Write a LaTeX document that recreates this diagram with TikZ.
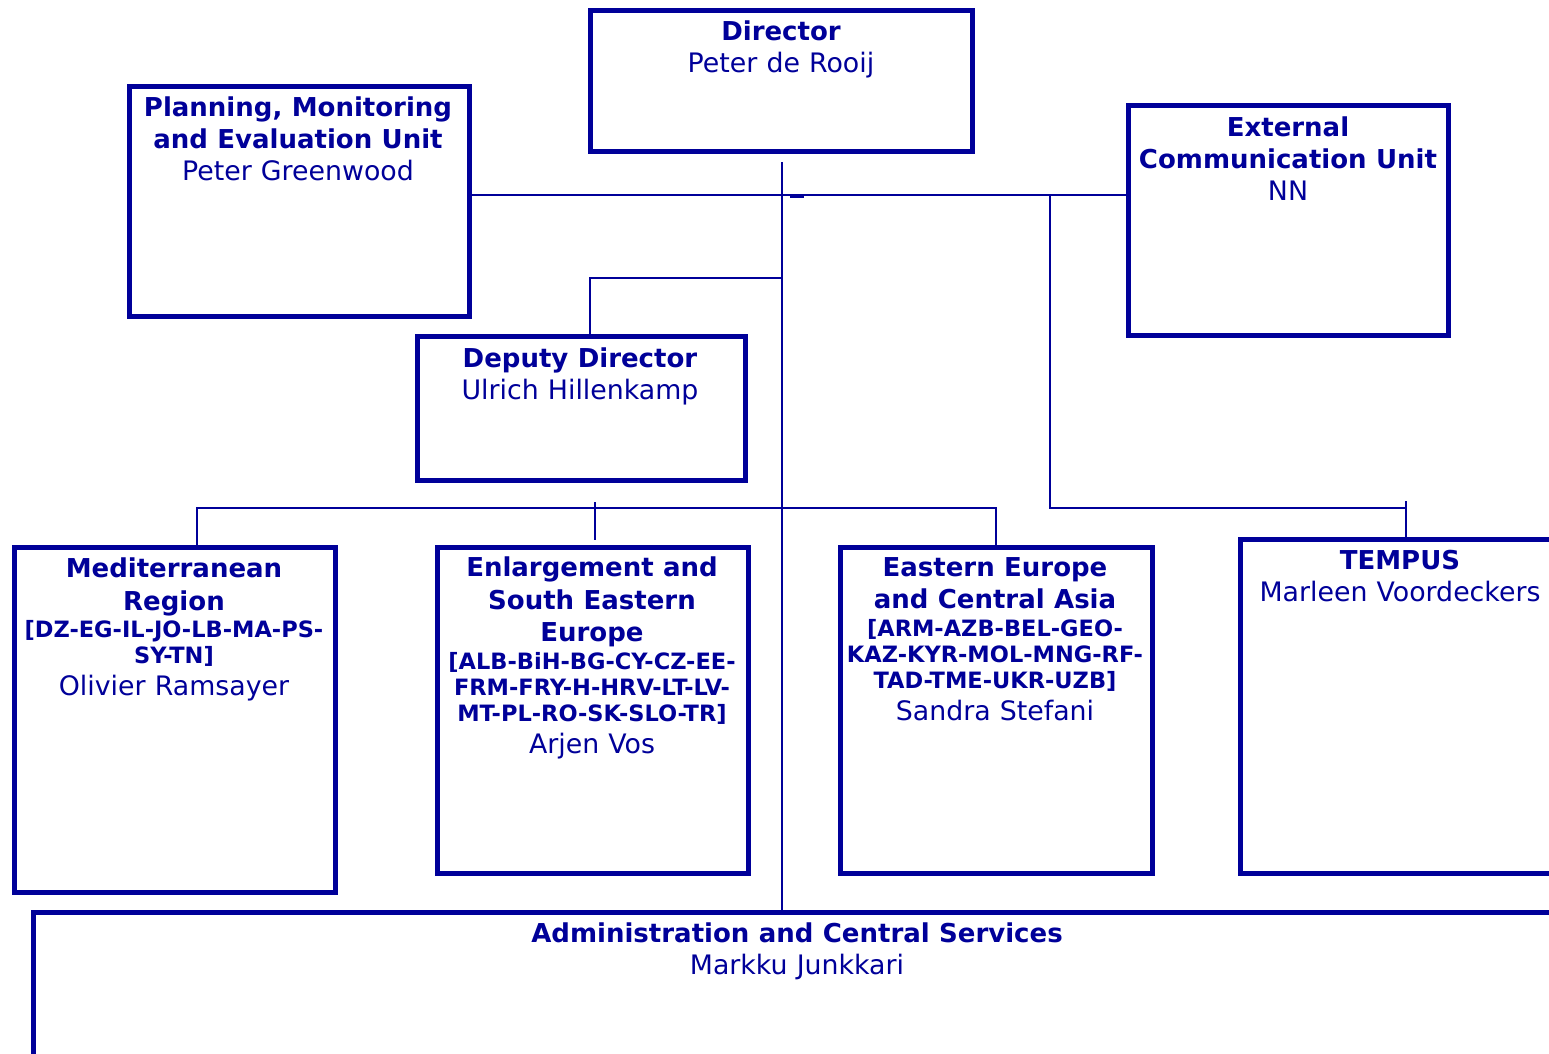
\documentclass[tikz,border=0pt]{standalone}
\usepackage{fontspec}
\setmainfont{DejaVu Sans}
\definecolor{orgblue}{RGB}{0,0,153}
\newcommand{\orgttl}{\fontsize{26}{32.5}\selectfont\bfseries\spaceskip=.36em\relax}
\newcommand{\orgcode}[1]{\vskip1.5pt{\fontsize{22.5}{26}\selectfont\bfseries #1\par}}
\newcommand{\orgname}[1]{{\fontsize{26.8}{32}\selectfont\spaceskip=.34em\relax #1\par}}

\begin{document}
\begin{tikzpicture}[x=1pt, y=-1pt,
		unit/.style={draw=orgblue, line width=5pt, inner sep=0pt, outer sep=0pt, anchor=north west},
		link/.style={draw=orgblue, line width=2pt},
		label/.style={text=orgblue, text width=800pt, inner sep=0pt, anchor=north,
			execute at begin node=\centering}]
		\useasboundingbox (0,0) rectangle (1549,1053);
		\clip (0,0) rectangle (1549,1053);
		
		% boxes
		\node[unit, minimum width=382pt, minimum height=141pt] (dir) at (590,10) {};
		\node[unit, minimum width=340pt, minimum height=230pt] (pmeu) at (129,86) {};
		\node[unit, minimum width=320pt, minimum height=230pt] (ecu) at (1128,105) {};
		\node[unit, minimum width=328pt, minimum height=144pt] (dep) at (417,336) {};
		\node[unit, minimum width=321pt, minimum height=345pt] (med) at (14,547) {};
		\node[unit, minimum width=311pt, minimum height=326pt] (enl) at (437,547) {};
		\node[unit, minimum width=312pt, minimum height=326pt] (eeca) at (840,547) {};
		\node[unit, minimum width=320pt, minimum height=334pt] (tempus) at (1240,539) {};
		\node[unit, minimum width=1528pt, minimum height=200pt] (admin) at (33,912) {};
		
		% texts
		\node[label] (dirt) at (781,20.5) {{\orgttl Director\par}\orgname{Peter de Rooij}};
		\node[label] (pmeut) at (298,96.5) {{\orgttl Planning, Monitoring\\and Evaluation Unit\par}\orgname{Peter Greenwood}};
		\node[label] (ecut) at (1288,116.5) {{\orgttl External\\Communication Unit\par}\orgname{NN}};
		\node[label] (dept) at (580,347.5) {{\orgttl Deputy Director\par}\orgname{Ulrich Hillenkamp}};
		\node[label] (medt) at (174,558) {{\orgttl Mediterranean\\Region\par}\orgcode{[DZ-EG-IL-JO-LB-MA-PS-\\SY-TN]}\orgname{Olivier Ramsayer}};
		\node[label] (enlt) at (592,557) {{\orgttl Enlargement and\\South Eastern\\Europe\par}\orgcode{[ALB-BiH-BG-CY-CZ-EE-\\FRM-FRY-H-HRV-LT-LV-\\MT-PL-RO-SK-SLO-TR]}\orgname{Arjen Vos}};
		\node[label] (eecat) at (995,557) {{\orgttl Eastern Europe\\and Central Asia\par}\orgcode{[ARM-AZB-BEL-GEO-\\KAZ-KYR-MOL-MNG-RF-\\TAD-TME-UKR-UZB]}\orgname{Sandra Stefani}};
		\node[label] (tempust) at (1400,549.5) {{\orgttl TEMPUS\par}\orgname{Marleen Voordeckers}};
		\node[label] (admint) at (797,922.5) {{\orgttl Administration and Central Services\par}\orgname{Markku Junkkari}};
		
		% connectors
		\coordinate (top) at (782,162);
		\coordinate (hub) at (782,195);
		\coordinate (tb) at (1050,195);
		\coordinate (tk) at (1406,508);
		\coordinate (tk0) at (1406,501);
		\coordinate (dj) at (782,278);
		\coordinate (dq) at (590,336);
		\coordinate (rl) at (197,508);
		\coordinate (rr) at (996,508);
		\coordinate (re0) at (595,502);
		\coordinate (re1) at (595,540);
		\coordinate (nick0) at (790,196.5);
		\coordinate (nick1) at (804,196.5);
		
		\draw[link] (top) -- (top |- admin.north);
		\draw[link] (pmeu.east |- hub) -- (ecu.west |- hub);
		\draw[link] (nick0) -- (nick1);
		\draw[link] (tb) |- (tk);
		\draw[link] (tk0) -- (tk0 |- tempus.north);
		\draw[link] (dj) -| (dq);
		\draw[link] (rl |- med.north) |- (rr) -- (rr |- eeca.north);
		\draw[link] (re0) -- (re1);
		
\end{tikzpicture}
\end{document}
